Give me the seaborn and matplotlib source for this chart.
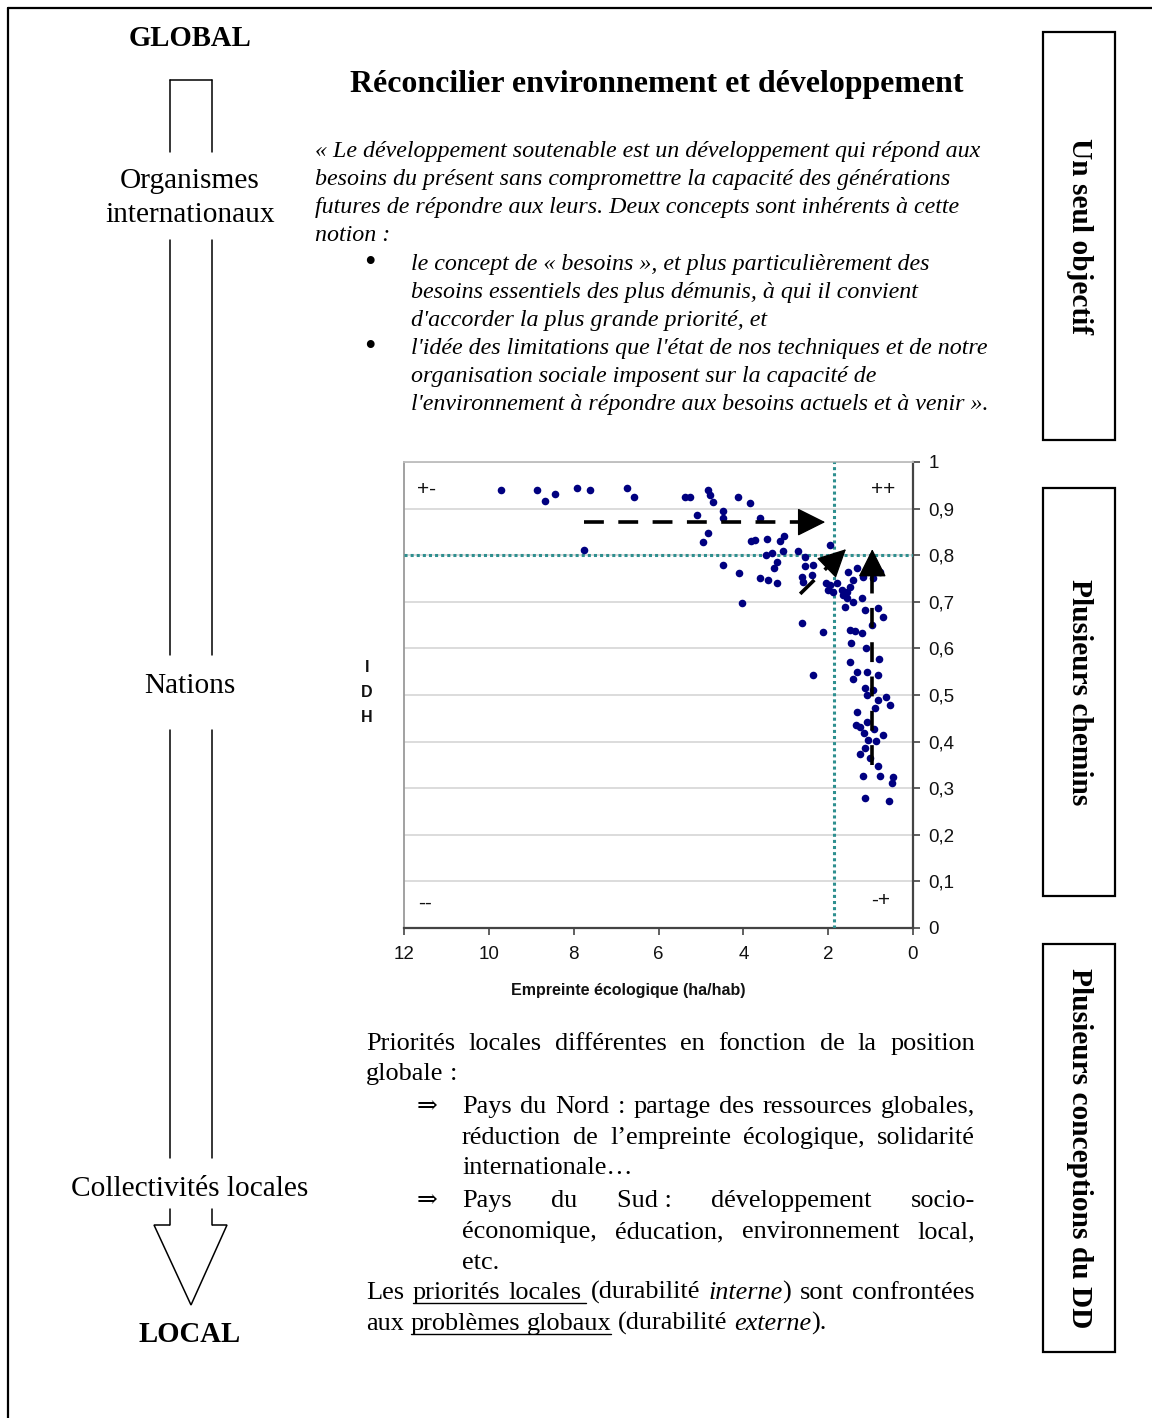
import matplotlib
matplotlib.use('Agg')
import matplotlib.pyplot as plt
import seaborn as sns
import numpy as np
import pandas as pd
from matplotlib.patches import Rectangle, FancyArrowPatch, Polygon

# ---------------- data ----------------
empreinte = [9.71, 8.86, 8.67, 8.44, 7.92, 7.61, 6.74, 6.58, 7.75,
             5.37, 5.25, 4.83, 4.78, 4.71, 4.12, 3.84, 5.09, 4.48, 4.48, 3.60,
             4.83, 4.95, 3.82, 3.72, 3.44, 3.13, 3.04, 3.06, 3.46, 3.32, 3.20,
             3.27, 2.71, 2.54, 2.54, 2.35, 4.48, 4.10, 3.60, 3.42, 3.20, 2.61,
             2.38, 2.59, 1.95, 2.05, 1.95, 1.79, 2.00, 1.88, 1.67, 1.55, 1.65,
             1.53, 1.41, 1.32, 1.17, 0.94, 0.84, 0.77, 1.48, 1.55, 1.60, 1.41,
             1.20, 1.13, 0.96, 0.82, 0.70, 4.03, 2.61,
             2.12, 1.48, 1.36, 1.20, 1.46, 1.10, 1.48, 0.80, 2.35, 1.32, 1.08,
             0.82, 1.41, 1.13, 0.94, 1.08, 0.82, 0.63, 0.54, 0.89, 1.32, 1.34,
             1.25, 1.08, 0.92, 1.15, 0.70, 1.06, 0.87, 1.13, 1.25, 1.01, 0.82,
             1.17, 0.77, 0.47, 0.49, 1.13, 0.56]
idh = [0.940, 0.940, 0.916, 0.931, 0.944, 0.940, 0.944, 0.925, 0.811,
       0.925, 0.925, 0.940, 0.929, 0.914, 0.925, 0.912, 0.886, 0.895, 0.880, 0.880,
       0.848, 0.828, 0.830, 0.833, 0.835, 0.830, 0.841, 0.809, 0.800, 0.805, 0.785,
       0.773, 0.809, 0.796, 0.777, 0.779, 0.779, 0.762, 0.751, 0.747, 0.740, 0.753,
       0.757, 0.742, 0.822, 0.740, 0.736, 0.740, 0.725, 0.721, 0.725, 0.721, 0.715,
       0.764, 0.747, 0.773, 0.753, 0.751, 0.768, 0.764, 0.732, 0.708, 0.689, 0.700,
       0.708, 0.682, 0.650, 0.687, 0.667, 0.697, 0.654,
       0.635, 0.640, 0.637, 0.633, 0.612, 0.601, 0.571, 0.577, 0.543, 0.549, 0.549,
       0.543, 0.534, 0.515, 0.511, 0.500, 0.489, 0.496, 0.479, 0.472, 0.464, 0.436,
       0.431, 0.442, 0.427, 0.418, 0.414, 0.403, 0.401, 0.386, 0.373, 0.365, 0.348,
       0.326, 0.326, 0.324, 0.311, 0.279, 0.273]

x_ticks = [12, 10, 8, 6, 4, 2, 0]
y_ticks = [0, 0.1, 0.2, 0.3, 0.4, 0.5, 0.6, 0.7, 0.8, 0.9, 1.0]
y_tick_labels = ['0', '0,1', '0,2', '0,3', '0,4', '0,5', '0,6', '0,7', '0,8', '0,9', '1']
seuil_empreinte = 1.86
seuil_idh = 0.8

# arrows on the chart: (start, head base, tip) in data units
fleche_h = [(7.75, 0.871), (2.66, 0.871), (2.07, 0.871)]
fleche_d = [(2.66, 0.717), (2.00, 0.776), (1.58, 0.813)]
fleche_v = [(0.96, 0.350), (0.96, 0.760), (0.96, 0.813)]

sns.set_style('white')
SERIF = ['Liberation Serif', 'DejaVu Serif']
SANS = ['Liberation Sans', 'DejaVu Sans']
plt.rcParams['font.family'] = SERIF
plt.rcParams['text.color'] = 'black'
plt.rcParams['axes.labelcolor'] = 'black'
plt.rcParams['xtick.color'] = 'black'
plt.rcParams['ytick.color'] = 'black'

W, H = 1152, 1418
fig = plt.figure(figsize=(W / 100, H / 100), dpi=100, facecolor='white')
ov = fig.add_axes([0, 0, 1, 1], zorder=0)
ov.set_xlim(0, W)
ov.set_ylim(H, 0)
ov.axis('off')
renderer = fig.canvas.get_renderer()


def tw(t):
    return t.get_window_extent(renderer=renderer).width


def fit_size(txt, target, base=20, **kw):
    t = ov.text(0, 0, txt, fontsize=base, **kw)
    w = tw(t)
    t.remove()
    return base * target / w


# ---------------- page frame ----------------
ov.plot([8, 8], [8, H], color='k', lw=1.6)
ov.plot([8, W], [8, 8], color='k', lw=1.6)

# ---------------- left column: GLOBAL -> LOCAL arrow ----------------
LW = 1.1
for xl in (170, 212):
    for y0, y1 in [(80, 152), (240, 655), (730, 1158), (1209, 1225)]:
        ov.plot([xl, xl], [y0, y1], color='k', lw=LW)
ov.plot([170, 212], [80, 80], color='k', lw=LW)
ov.add_patch(Polygon([(170, 1225), (154, 1225), (191, 1305), (227, 1225), (212, 1225)],
                     closed=False, fill=False, edgecolor='k', lw=LW))

s_left = fit_size('Collectivités locales', 237, family=SERIF)
ov.text(190, 46, 'GLOBAL', fontsize=s_left * 0.98, fontweight='bold', ha='center', va='baseline', family=SERIF)
ov.text(190, 1342, 'LOCAL', fontsize=s_left * 0.98, fontweight='bold', ha='center', va='baseline', family=SERIF)
ov.text(190, 188, 'Organismes', fontsize=s_left, ha='center', va='baseline', family=SERIF)
ov.text(190, 222, 'internationaux', fontsize=s_left, ha='center', va='baseline', family=SERIF)
ov.text(190, 693, 'Nations', fontsize=s_left, ha='center', va='baseline', family=SERIF)
ov.text(190, 1196, 'Collectivités locales', fontsize=s_left, ha='center', va='baseline', family=SERIF)

# ---------------- right column boxes ----------------
s_box = fit_size('Plusieurs conceptions du DD', 360, fontweight='bold', family=SERIF)
for (y0, label) in [(32, 'Un seul objectif'), (488, 'Plusieurs chemins'), (944, 'Plusieurs conceptions du DD')]:
    ov.add_patch(Rectangle((1043, y0), 72, 408, fill=False, edgecolor='k', lw=1.6))
    ov.text(1079, y0 + 204, label, rotation=270, fontsize=s_box, fontweight='bold',
            ha='center', va='center', family=SERIF)

# ---------------- title and quote ----------------
titre = 'Réconcilier environnement et développement'
s_title = fit_size(titre, 612, fontweight='bold', family=SERIF)
ov.text(350, 92, titre, fontsize=s_title, fontweight='bold', ha='left', va='baseline', family=SERIF)

quote = ['« Le développement soutenable est un développement qui répond aux',
         'besoins du présent sans compromettre la capacité des générations',
         'futures de répondre aux leurs. Deux concepts sont inhérents à cette',
         'notion :']
bullets = [['le concept de « besoins », et plus particulièrement des',
            'besoins essentiels des plus démunis, à qui il convient',
            "d'accorder la plus grande priorité, et"],
           ["l'idée des limitations que l'état de nos techniques et de notre",
            'organisation sociale imposent sur la capacité de',
            "l'environnement à répondre aux besoins actuels et à venir »."]]
s_it = fit_size(quote[0], 667, style='italic', family=SERIF)
yb = 157
for line in quote:
    ov.text(315, yb, line, fontsize=s_it, style='italic', ha='left', va='baseline', family=SERIF)
    yb += 28
yb = 270
for item in bullets:
    ov.text(370, yb + 1, '•', fontsize=s_it * 1.35, ha='center', va='baseline', family=SERIF)
    for line in item:
        ov.text(411, yb, line, fontsize=s_it, style='italic', ha='left', va='baseline', family=SERIF)
        yb += 28

# ---------------- bottom justified paragraph ----------------
BODY = 18.9


def space_w(size):
    a = ov.text(0, 0, 'a a', fontsize=size, family=SERIF)
    b = ov.text(0, 0, 'aa', fontsize=size, family=SERIF)
    w = tw(a) - tw(b)
    a.remove(); b.remove()
    return w


def put_line(words, x0, yb, x1=None, size=BODY, under=()):
    placed = []
    for w in words:
        runs = w if isinstance(w, list) else [(w, False)]
        items = []
        for txt, it in runs:
            t = ov.text(0, yb, txt, fontsize=size, style='italic' if it else 'normal',
                        ha='left', va='baseline', family=SERIF)
            items.append((t, tw(t)))
        placed.append(items)
    widths = [sum(w for _, w in items) for items in placed]
    n = len(placed)
    gap = (x1 - x0 - sum(widths)) / (n - 1) if (x1 is not None and n > 1) else space_w(size)
    x = x0
    spans = []
    for items in placed:
        s = x
        for t, w in items:
            t.set_x(x)
            x += w
        spans.append((s, x))
        x += gap
    for i, j, ext in under:
        ov.plot([spans[i][0], spans[j][1] + ext], [yb + 3.5, yb + 3.5], color='k', lw=1.0)


XL, XI, XR = 366, 462, 975
put_line('Priorités locales différentes en fonction de la position'.split(), XL, 1050, XR)
put_line(['globale', ':'], XL, 1080)
ov.text(427, 1113, '⇒', fontsize=BODY * 0.95, ha='center', va='baseline', family=SERIF)
put_line('Pays du Nord : partage des ressources globales,'.split(), XI, 1113, XR)
put_line('réduction de l’empreinte écologique, solidarité'.split(), XI, 1144, XR)
put_line(['internationale…'], XI, 1174)
ov.text(427, 1207, '⇒', fontsize=BODY * 0.95, ha='center', va='baseline', family=SERIF)
put_line(['Pays', 'du', 'Sud :', 'développement', 'socio-'], XI, 1207, XR)
put_line('économique, éducation, environnement local,'.split(), XI, 1238, XR)
put_line(['etc.'], XI, 1269)
put_line(['Les', 'priorités', 'locales', '(durabilité', [('interne', True), (')', False)],
          'sont', 'confrontées'], XL, 1299, XR, under=[(1, 2, 4)])
put_line(['aux', 'problèmes', 'globaux', '(durabilité', [('externe', True), (').', False)]],
         XL, 1330, under=[(1, 2, 0)])

# ---------------- scatter chart ----------------
ax = fig.add_axes([404 / W, 1 - 928 / H, (913 - 404) / W, (928 - 462) / H], zorder=2)
df = pd.DataFrame({'empreinte': empreinte, 'idh': idh})
sns.scatterplot(data=df, x='empreinte', y='idh', ax=ax, color='#000080', s=30,
                linewidth=0, zorder=5, legend=False)
ax.set_xlim(12, 0)
ax.set_ylim(0, 1)
ax.set_xticks(x_ticks)
ax.set_xticklabels([str(v) for v in x_ticks])
ax.set_yticks(y_ticks)
ax.set_yticklabels(y_tick_labels)
ax.yaxis.tick_right()
ax.grid(axis='y', color='#dcdcdc', lw=1.4, zorder=0)
ax.grid(axis='x', visible=False)
ax.tick_params(axis='y', which='both', right=True, left=False, length=5, width=1.2,
               color='#444444', pad=6, labelsize=13.5, labelcolor='#111111')
ax.tick_params(axis='x', which='both', bottom=True, length=5, width=1.2,
               color='#444444', pad=8, labelsize=13.5, labelcolor='#111111')
for lab in ax.get_xticklabels() + ax.get_yticklabels():
    lab.set_family(SANS)
for side, col, lw in [('left', '#9a9a9a', 1.3), ('top', '#bdbdbd', 1.3),
                      ('bottom', '#444444', 1.6), ('right', '#444444', 1.6)]:
    ax.spines[side].set_visible(True)
    ax.spines[side].set_color(col)
    ax.spines[side].set_linewidth(lw)

ax.axhline(seuil_idh, color='#2e8f8f', lw=2.2, ls=(0, (1, 1)), zorder=3)
ax.axvline(seuil_empreinte, color='#2e8f8f', lw=2.2, ls=(0, (1, 1)), zorder=3)

ax.set_xlabel('Empreinte écologique (ha/hab)', fontsize=11.5, fontweight='bold', family=SANS, color='#111111')
ax.xaxis.set_label_coords(0.44, -0.135)
ax.xaxis.label.set_va('center')
ax.set_ylabel('')
ax.text(-0.073, 0.505, 'I\nD\nH', transform=ax.transAxes, ha='center', va='center',
        fontsize=11.5, fontweight='bold', family=SANS, linespacing=1.85, color='#111111')

for txt, xx, yy in [('+-', 11.46, 0.94), ('++', 0.70, 0.94), ('--', 11.5, 0.054), ('-+', 0.77, 0.058)]:
    ax.text(xx, yy, txt, ha='center', va='center', fontsize=15, family=SANS, color='#111111')

for (p0, pb, pt) in [fleche_h, fleche_d, fleche_v]:
    ax.plot([p0[0], pb[0]], [p0[1], pb[1]], color='k', lw=2.6, ls=(0, (5.5, 4)),
            solid_capstyle='butt', dash_capstyle='butt', zorder=6)
    ax.add_patch(FancyArrowPatch(pb, pt, arrowstyle='-|>,head_length=0.9,head_width=0.45',
                                 mutation_scale=20, color='k', lw=1, shrinkA=0, shrinkB=0, zorder=7))

fig.savefig('out.png', dpi=100, facecolor='white')
